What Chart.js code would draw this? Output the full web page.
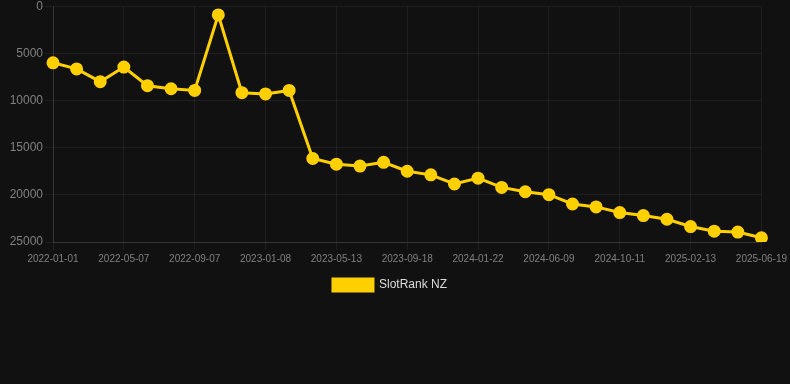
<!DOCTYPE html>
<html>
<head>
<meta charset="utf-8">
<script src="https://cdn.jsdelivr.net/npm/chart.js@4"></script>
<style>
html,body{margin:0;padding:0;background:#111111;overflow:hidden;}
#wrap{width:790px;height:304px;position:absolute;left:0;top:-3px;}
</style>
</head>
<body>
<div id="wrap"><canvas id="c"></canvas></div>
<script>
const categories = [
  "2022-01-01","2022-02-12","2022-03-26","2022-05-07","2022-06-18","2022-07-28",
  "2022-09-07","2022-10-19","2022-11-28","2023-01-08","2023-02-19","2023-03-31",
  "2023-05-13","2023-06-24","2023-08-06","2023-09-18","2023-10-30","2023-12-10",
  "2024-01-22","2024-03-06","2024-04-24","2024-06-09","2024-07-21","2024-08-31",
  "2024-10-11","2024-11-22","2025-01-02","2025-02-13","2025-03-28","2025-05-08",
  "2025-06-19"
];
const slotRankNZ = [
  6000, 6650, 8000, 6450, 8430, 8750, 8930, 920, 9170, 9300, 8930, 16150,
  16750, 16950, 16550, 17500, 17880, 18850, 18230, 19210, 19670, 19980,
  20970, 21280, 21880, 22200, 22590, 23360, 23850, 23950, 24550
];
const yTicks = [0, 5000, 10000, 15000, 20000, 25000];

new Chart(document.getElementById('c'), {
  type: 'line',
  data: {
    labels: categories,
    datasets: [{
      label: 'SlotRank NZ',
      data: slotRankNZ,
      borderColor: '#FFD000',
      backgroundColor: '#FFD000',
      borderWidth: 3,
      pointRadius: 5,
      pointHoverRadius: 6,
      pointBackgroundColor: '#FFD000',
      pointBorderColor: '#FFD000',
      tension: 0
    }]
  },
  options: {
    responsive: true,
    maintainAspectRatio: false,
    animation: false,
    layout: { padding: { left: 0, right: 10 } },
    plugins: {
      legend: {
        position: 'bottom',
        labels: { color: '#dddddd', font: { family: 'Liberation Sans, Arial', size: 12 }, boxWidth: 40, boxHeight: 12 }
      },
      tooltip: { enabled: false }
    },
    scales: {
      x: {
        afterFit: function(axis) { axis.height += 1; },
        grid: { color: 'rgba(255,255,255,0.06)', tickColor: 'rgba(255,255,255,0.06)' },
        border: { color: 'rgba(255,255,255,0.1)' },
        ticks: {
          color: '#808080',
          padding: 3,
          font: { family: 'Liberation Sans, Arial', size: 10 },
          maxRotation: 0,
          autoSkip: false,
          callback: function(v, i) { return i % 3 === 0 ? categories[i] : null; }
        }
      },
      y: {
        reverse: true,
        min: yTicks[0],
        max: yTicks[yTicks.length - 1],
        afterFit: function(axis) { axis.width = 53; },
        grid: { color: 'rgba(255,255,255,0.06)', tickColor: 'rgba(255,255,255,0.06)' },
        border: { color: 'rgba(255,255,255,0.1)' },
        afterBuildTicks: function(axis) { axis.ticks = yTicks.map(v => ({ value: v })); },
        ticks: {
          color: '#808080',
          padding: 2,
          font: { family: 'Liberation Sans, Arial', size: 12 },
          callback: function(v) { return String(v); }
        }
      }
    }
  }
});
</script>
</body>
</html>
